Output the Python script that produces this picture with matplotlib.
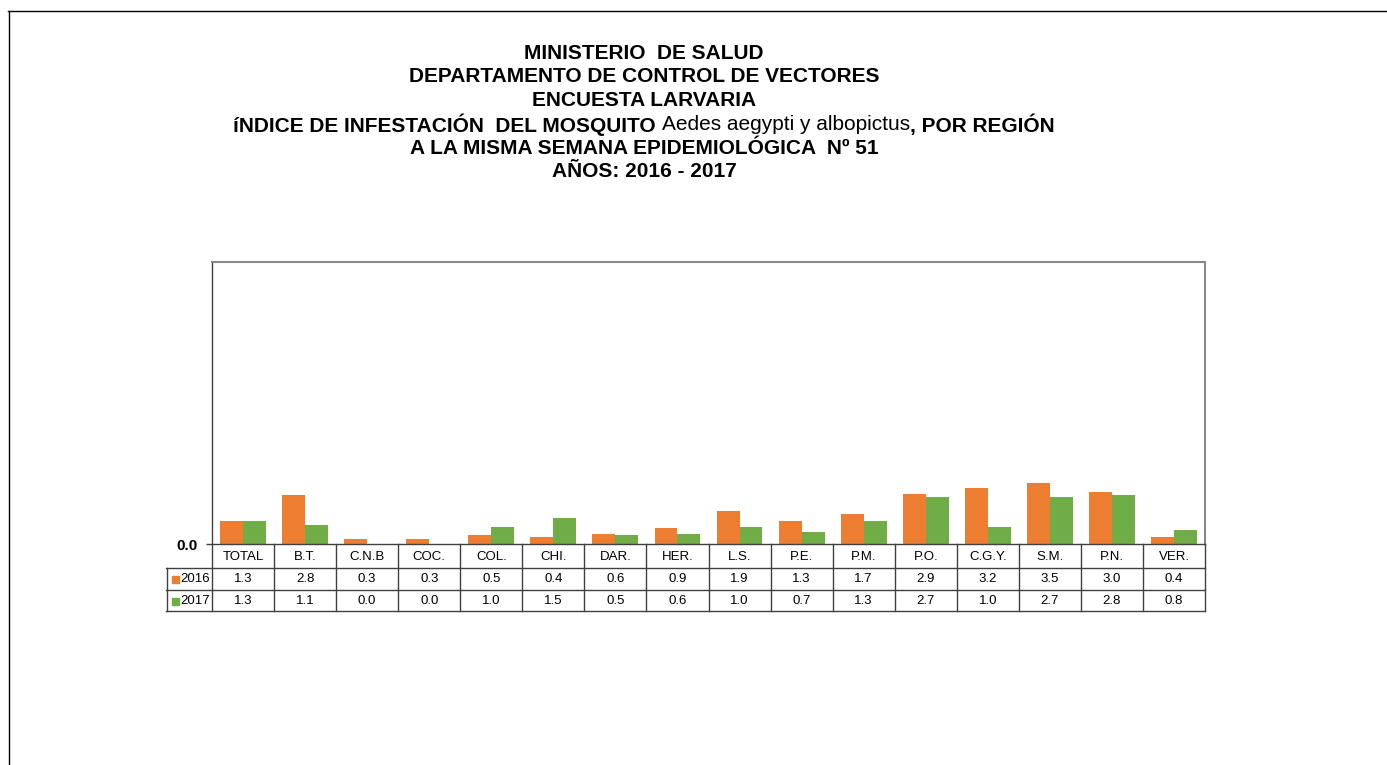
import matplotlib
matplotlib.use("Agg")
import matplotlib.pyplot as plt
from matplotlib.transforms import blended_transform_factory
from matplotlib.lines import Line2D
from matplotlib.patches import Rectangle
import numpy as np

categories = ["TOTAL", "B.T.", "C.N.B", "COC.", "COL.", "CHI.", "DAR.", "HER.",
              "L.S.", "P.E.", "P.M.", "P.O.", "C.G.Y.", "S.M.", "P.N.", "VER."]
values_2016 = [1.3, 2.8, 0.3, 0.3, 0.5, 0.4, 0.6, 0.9, 1.9, 1.3, 1.7, 2.9, 3.2, 3.5, 3.0, 0.4]
values_2017 = [1.3, 1.1, 0.0, 0.0, 1.0, 1.5, 0.5, 0.6, 1.0, 0.7, 1.3, 2.7, 1.0, 2.7, 2.8, 0.8]
series_names = ["2016", "2017"]
colors = ["#ED7D31", "#70AD47"]

title_lines = ["MINISTERIO  DE SALUD",
               "DEPARTAMENTO DE CONTROL DE VECTORES",
               "ENCUESTA LARVARIA",
               None,
               "A LA MISMA SEMANA EPIDEMIOLÓGICA  Nº 51",
               "AÑOS: 2016 - 2017"]
line4_parts = [("íNDICE DE INFESTACIÓN  DEL MOSQUITO ", "bold"),
               ("Aedes aegypti y albopictus", "normal"),
               (", POR REGIÓN", "bold")]

W, H = 1387, 765
plt.rcParams['font.family'] = ['Liberation Sans', 'DejaVu Sans']
fig = plt.figure(figsize=(W / 100, H / 100), dpi=100)

def fx(x):
    return x / W

def fy(y):
    return 1 - y / H

# outer border (top and left)
fig.add_artist(Line2D([fx(8), fx(1386)], [fy(10.5), fy(10.5)], color="black", lw=1.0,
                      transform=fig.transFigure))
fig.add_artist(Line2D([fx(8.5), fx(8.5)], [fy(10.5), fy(765)], color="black", lw=1.0,
                      transform=fig.transFigure))

# axes
L, R, T, B = 212, 1205, 262, 544
ax = fig.add_axes([fx(L), fy(B), fx(R) - fx(L), fy(T) - fy(B)])
n = len(categories)
x = np.arange(n)
bw = 0.37
ax.bar(x - bw / 2, values_2016, width=bw, color=colors[0], zorder=2)
ax.bar(x + bw / 2, values_2017, width=bw, color=colors[1], zorder=2)
ax.set_xlim(-0.5, n - 0.5)
ax.set_ylim(0, 16.2)
ax.set_xticks([])
ax.set_yticks([0])
ax.set_yticklabels(["0.0"], fontsize=11, fontweight="bold")
ax.tick_params(axis='y', length=4, width=1, color="#404040", pad=6)
for s in ["top", "right"]:
    ax.spines[s].set_color("#888888")
    ax.spines[s].set_linewidth(1.5)
ax.spines["left"].set_color("#404040")
ax.spines["left"].set_linewidth(1.0)
ax.spines["bottom"].set_color("#404040")
ax.spines["bottom"].set_linewidth(1.0)

# data table below the axes
tr = blended_transform_factory(ax.transData, fig.transFigure)
lc = "#404040"
for yy in [568, 590, 611]:
    fig.add_artist(Line2D([fx(166), fx(R)], [fy(yy), fy(yy)], color=lc, lw=1.0,
                          transform=fig.transFigure))
fig.add_artist(Line2D([fx(166.5), fx(166.5)], [fy(568), fy(611)], color=lc, lw=1.0,
                      transform=fig.transFigure))
for b in np.arange(n + 1) - 0.5:
    fig.add_artist(Line2D([b, b], [fy(544), fy(611)], color=lc, lw=1.0, transform=tr))

fs = 9.5
for i, c in enumerate(categories):
    fig.text(i, fy(556.5), c, transform=tr, ha="center", va="center", fontsize=fs)
    fig.text(i, fy(579.5), f"{values_2016[i]:.1f}", transform=tr, ha="center", va="center", fontsize=fs)
    fig.text(i, fy(601), f"{values_2017[i]:.1f}", transform=tr, ha="center", va="center", fontsize=fs)

for k, (name, col) in enumerate(zip(series_names, colors)):
    yc = [579.5, 601][k]
    fig.add_artist(Rectangle((fx(172), fy(yc + 3.5)), fx(6.5), fy(0) - fy(7),
                             color=col, transform=fig.transFigure))
    fig.text(fx(180), fy(yc), name, ha="left", va="center", fontsize=fs)

# titles
cx = fx(644)
ys = [53.5, 77, 100.5, 125, 148.5, 171.5]
tsize = 15
for line, yy in zip(title_lines, ys):
    if line is not None:
        fig.text(cx, fy(yy), line, ha="center", va="center", fontsize=tsize, fontweight="bold")

# mixed-weight line 4
fig.canvas.draw()
renderer = fig.canvas.get_renderer()
pieces = []
total = 0
for txt, wt in line4_parts:
    t = fig.text(0, fy(ys[3]), txt, ha="left", va="center", fontsize=tsize, fontweight=wt)
    w = t.get_window_extent(renderer).width
    pieces.append((t, w))
    total += w
start = 644 - total / 2
for t, w in pieces:
    t.set_x(fx(start))
    start += w

fig.savefig("out.png", dpi=100, facecolor="white")
